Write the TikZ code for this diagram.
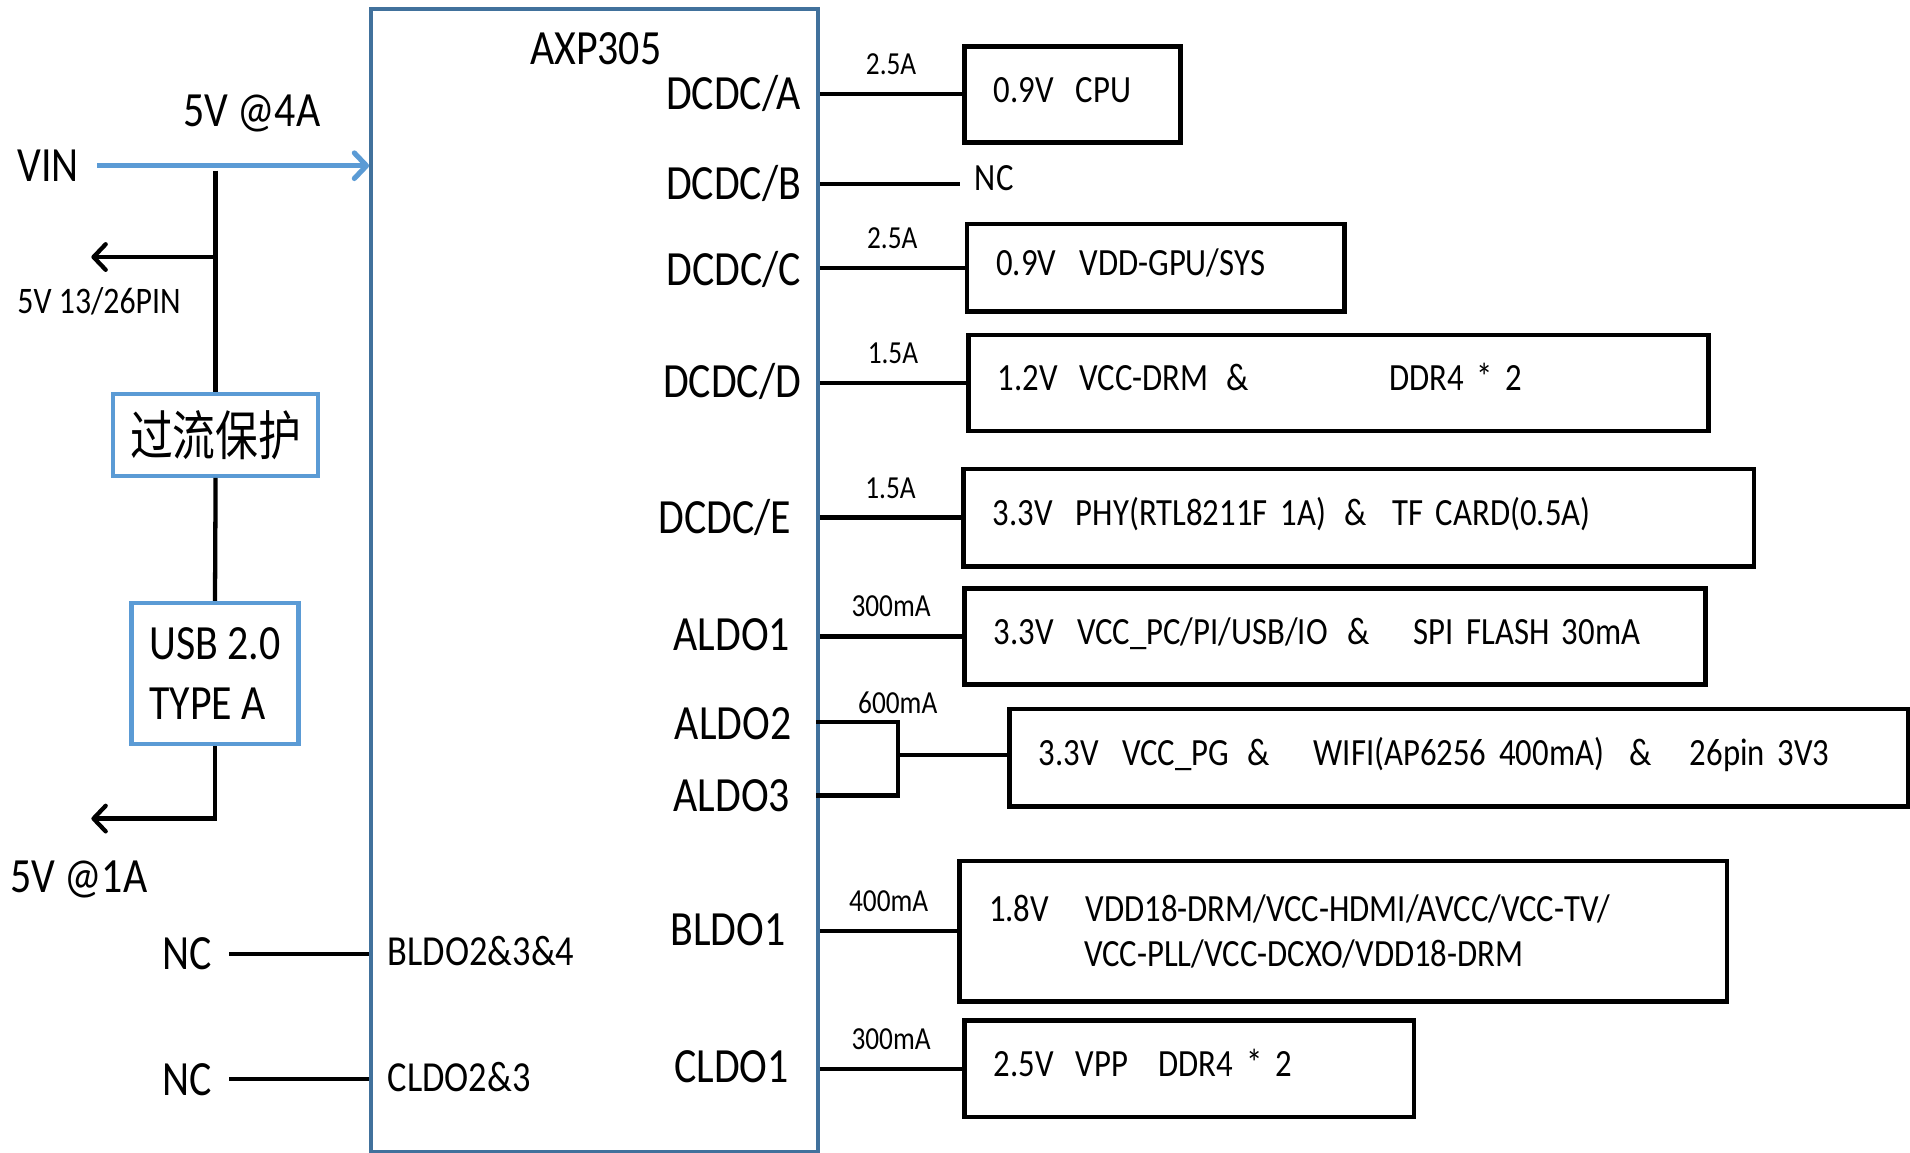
\documentclass[tikz,border=0pt]{standalone}
\usepackage{fontspec}
\setmainfont{Carlito}[FakeStretch=0.85]
\newfontfamily\cjk{Noto Sans CJK SC}[FakeStretch=0.8]
\usetikzlibrary{arrows.meta, positioning}

\definecolor{chipblue}{RGB}{65,113,156}
\definecolor{lineblue}{RGB}{91,155,213}

\begin{document}
\begin{tikzpicture}[
            x=0.02cm, y=-0.02cm,
            every node/.style={inner sep=0pt},
            pin/.style={font=\fontsize{23}{27}\selectfont, anchor=base east},
            big/.style={font=\fontsize{23}{27}\selectfont, anchor=base west},
            mid/.style={font=\fontsize{20}{24}\selectfont, anchor=base west},
            cur/.style={font=\fontsize{15}{18}\selectfont, above=8pt},
            load/.style={
                draw,
                line width=2.2pt,
                anchor=north west,
                align=left,
                inner xsep=0.48cm,
                font=\fontsize{18}{21}\selectfont
            },
            oneline/.style={load, text height=11.4pt, text depth=4pt},
            bluebox/.style={draw=lineblue, line width=2pt},
            wire/.style={line width=2pt},
            feed/.style={wire, -{Straight Barb[length=0.2cm, width=0.42cm, round]}}
        ]
        \useasboundingbox (0,0) rectangle (1568,946);

        % Chip
        \node[draw=chipblue, line width=1.8pt, anchor=north west,
              minimum width=7.34cm, minimum height=18.76cm] (axp) at (303,6) {};
        \node[font=\fontsize{23}{27}\selectfont, anchor=base] (name) at (489,53) {AXP305};

        % Input side
        \node[big] (vin) at (14,149) {VIN};
        \node[big] (in4a) at (150,104) {5V @4A};
        \node[font=\fontsize{17.5}{21}\selectfont, anchor=base west] (pin26) at (14,257) {5V 13/26PIN};
        \node[bluebox, minimum width=3.36cm, minimum height=1.34cm,
              font=\cjk\fontsize{25}{30}\selectfont] (ocp) at (177,357) {过流保护};
        \node[bluebox, minimum width=2.74cm, minimum height=2.32cm,
              align=left, font=\fontsize{23}{28.3}\selectfont] (usb) at (176.5,553) {USB 2.0\\TYPE A};
        \node[big] (out1a) at (8,733) {5V @1A};
        \coordinate (tap) at (177,140);
        \coordinate (tap26) at (177,211);
        \coordinate (out26) at (75,211);
        \coordinate (outusb) at (75,672);

        % Unused outputs on the left
        \node[big] (nc1) at (133,796) {NC};
        \node[big] (nc2) at (133,899) {NC};
        \node[mid] (bldo) at (318,793) {BLDO2\&3\&4};
        \node[mid] (cldo) at (318,896) {CLDO2\&3};

        % Output pins
        \node[pin] (pa) at (658,90) {DCDC/A};
        \node[pin] (pb) at (658,164) {DCDC/B};
        \node[pin] (pc) at (658,234) {DCDC/C};
        \node[pin] (pd) at (658,326) {DCDC/D};
        \node[pin] (pe) at (650,438) {DCDC/E};
        \node[pin] (pal1) at (649,534) {ALDO1};
        \node[pin] (pal2) at (650,607) {ALDO2};
        \node[pin] (pal3) at (649,666) {ALDO3};
        \node[pin] (pbl1) at (645,776) {BLDO1};
        \node[pin] (pcl1) at (648,889) {CLDO1};

        % Loads
        \node[oneline, text width=2.58cm, minimum height=1.58cm] (cpu) at (790,36)
            {0.9V\hspace{0.36cm}CPU};
        \node[oneline, text width=5.24cm, minimum height=1.44cm] (gpu) at (792,182)
            {0.9V\hspace{0.38cm}VDD-GPU/SYS};
        \node[oneline, text width=11.2cm, minimum height=1.58cm] (drm) at (793,273)
            {1.2V\hspace{0.36cm}VCC-DRM\hspace{0.3cm}\&\hspace{2.3cm}DDR4 * 2};
        \node[oneline, text width=12.02cm, minimum height=1.6cm] (phy) at (789,383)
            {3.3V\hspace{0.38cm}PHY(RTL8211F 1A)\hspace{0.3cm}\&\hspace{0.42cm}TF CARD(0.5A)};
        \node[oneline, text width=11.2cm, minimum height=1.58cm] (io) at (790,481)
            {3.3V\hspace{0.38cm}VCC\_PC/PI/USB/IO\hspace{0.32cm}\&\hspace{0.72cm}SPI FLASH\hspace{0.2cm}30mA};
        \node[oneline, text width=13.8cm, minimum height=1.6cm] (wifi) at (827,580)
            {3.3V\hspace{0.38cm}VCC\_PG\hspace{0.3cm}\&\hspace{0.72cm}WIFI(AP6256 400mA)\hspace{0.42cm}\&\hspace{0.62cm}26pin 3V3};
        \node[load, text width=11.64cm, minimum height=2.3cm] (hdmi) at (786,705)
            {1.8V\hspace{0.6cm}VDD18-DRM/VCC-HDMI/AVCC/VCC-TV/\\\hspace*{1.56cm}VCC-PLL/VCC-DCXO/VDD18-DRM};
        \node[oneline, text width=6.42cm, minimum height=1.58cm] (vpp) at (790,836)
            {2.5V\hspace{0.36cm}VPP\hspace{0.5cm}DDR4 * 2};
        \node[font=\fontsize{18}{21}\selectfont, anchor=base west] (ncb) at (800,156) {NC};
        \coordinate (endb) at (788,151);
        \coordinate (a2) at (670,593);
        \coordinate (a3) at (670,653);
        \coordinate (merge) at (737,620);

        % Arrows
        \draw[feed, lineblue, line width=2.4pt] ([xshift=0.3cm]vin.east) -- (vin.east -| axp.west);
        \draw[wire] (tap) -- (ocp.north);
        \draw[feed] (tap26) -- (out26);
        \draw[wire] (ocp.south) -- (usb.north);
        \draw[feed] (usb.south) |- (outusb);
        \draw[wire] ([xshift=0.28cm]nc1.east) -- (nc1.east -| axp.west);
        \draw[wire] ([xshift=0.28cm]nc2.east) -- (nc2.east -| axp.west);

        \draw[wire] (cpu.west -| axp.east) -- node[cur] {2.5A} (cpu.west);
        \draw[wire] (endb -| axp.east) -- (endb);
        \draw[wire] (gpu.west -| axp.east) -- node[cur] {2.5A} (gpu.west);
        \draw[wire] (drm.west -| axp.east) -- node[cur] {1.5A} (drm.west);
        \draw[wire] (phy.west -| axp.east) -- node[cur] {1.5A} (phy.west);
        \draw[wire] (io.west -| axp.east) -- node[cur] {300mA} (io.west);
        \draw[wire] (a2) -| node[cur, above=3pt, pos=0.5] {600mA} (merge) |- (a3);
        \draw[wire] (merge) -- (merge -| wifi.west);
        \draw[wire] (hdmi.west -| axp.east) -- node[cur] {400mA} (hdmi.west);
        \draw[wire] (vpp.west -| axp.east) -- node[cur] {300mA} (vpp.west);

        \end{tikzpicture}
\end{document}
